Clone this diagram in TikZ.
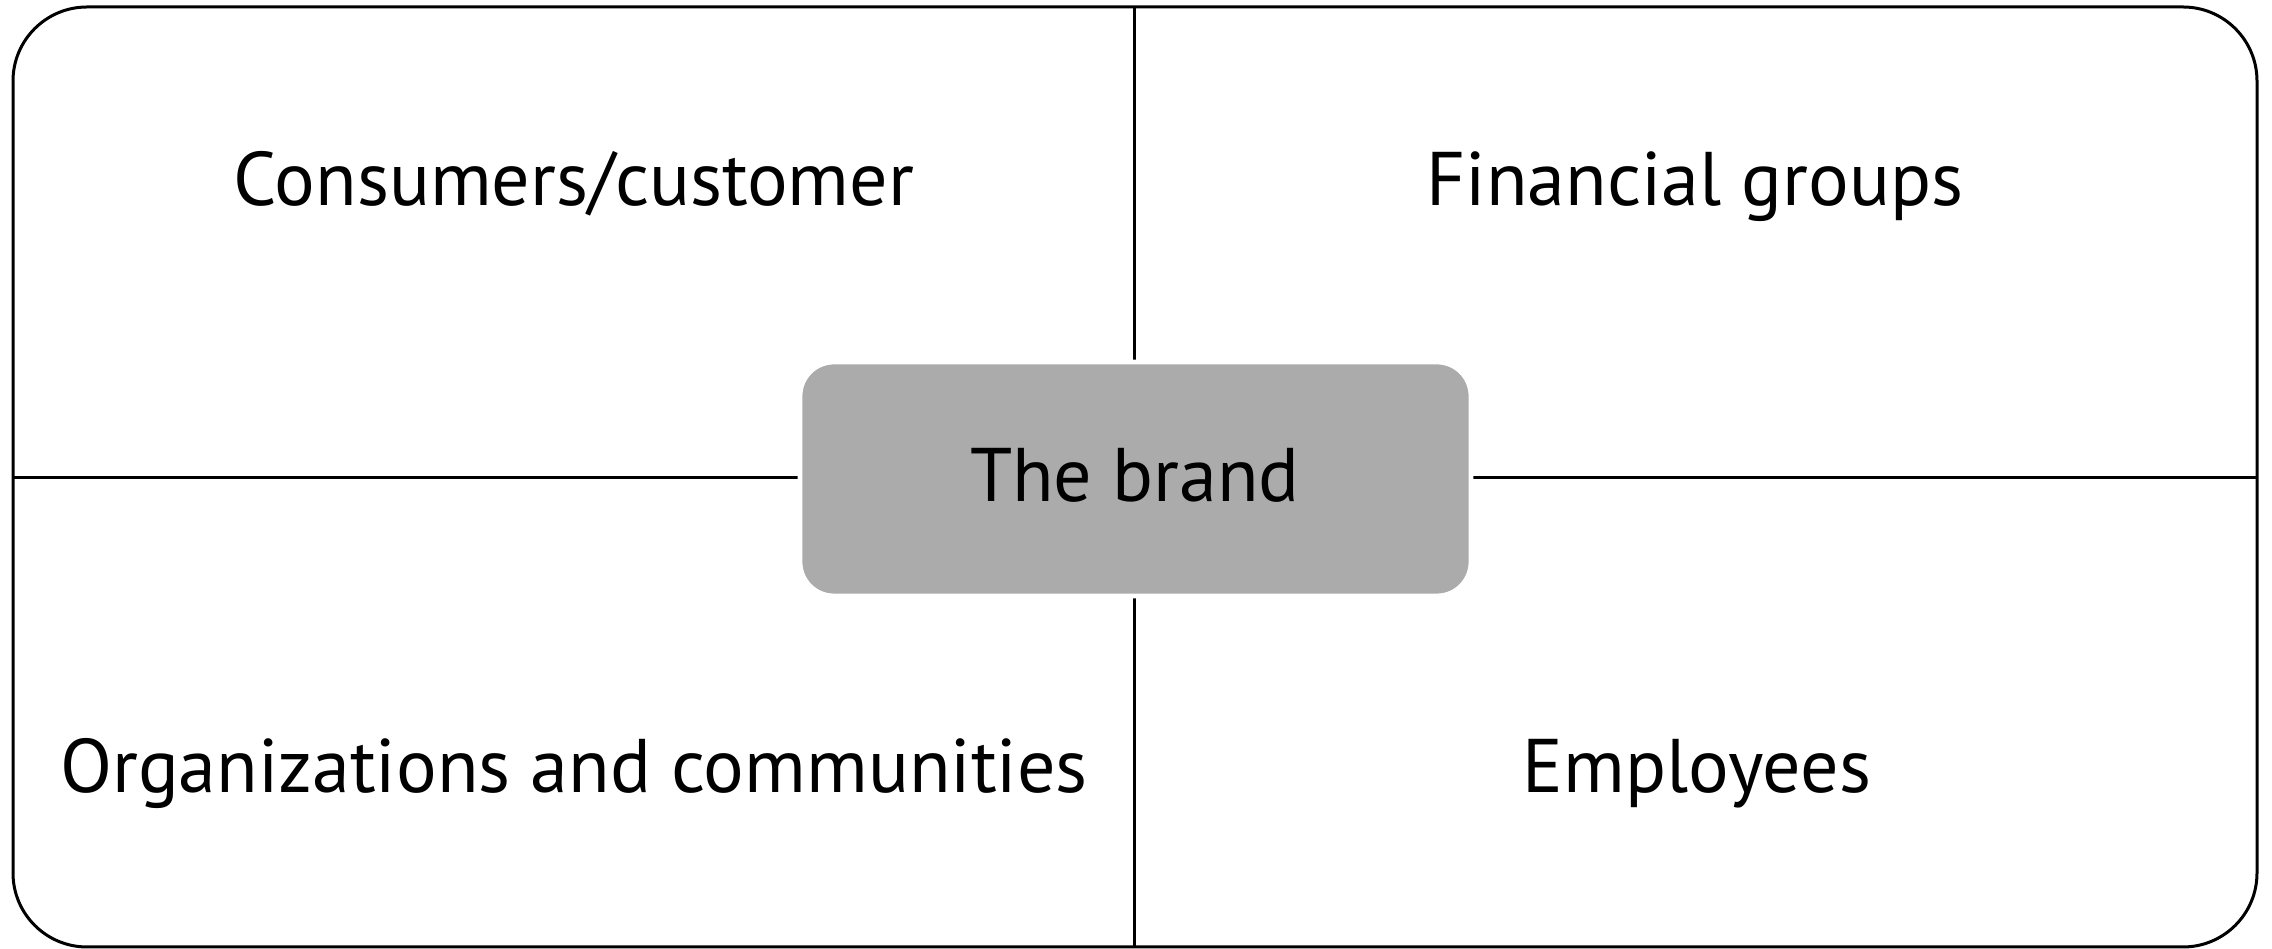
\documentclass[tikz,border=0pt]{standalone}
\usepackage{fontspec}
\setmainfont{PT Sans}
\begin{document}
\begin{tikzpicture}[x=0.25pt,y=-0.25pt,
  frame/.style={draw=black,line width=0.75pt,rounded corners=18.5pt},
  divider/.style={draw=black,line width=0.75pt},
  brandbox/.style={fill=black!33,draw=white,line width=1.2pt,rounded corners=8.5pt},
  label/.style={anchor=base,inner sep=0pt,font=\fontsize{19}{23}\selectfont}]
\useasboundingbox (0,0) rectangle (2272,949);
\draw[frame] (13,7) rectangle (2257,947);
\coordinate (top) at (1134.5,7);
\coordinate (bot) at (1134.5,947);
\coordinate (lft) at (13,478);
\coordinate (rgt) at (2257,478);
\draw[divider] (top) -- (bot);
\draw[divider] (lft) -- (rgt);
\path[brandbox] (800,362) rectangle (1471,596);
\node[label] (brand) at (1135,502) {The brand};
\node[label] (cons) at (574,206) {Consumers/customer};
\node[label] (fin) at (1695,206) {Financial groups};
\node[label] (org) at (574,793) {Organizations and communities};
\node[label] (emp) at (1697,793) {Employees};
\end{tikzpicture}
\end{document}
